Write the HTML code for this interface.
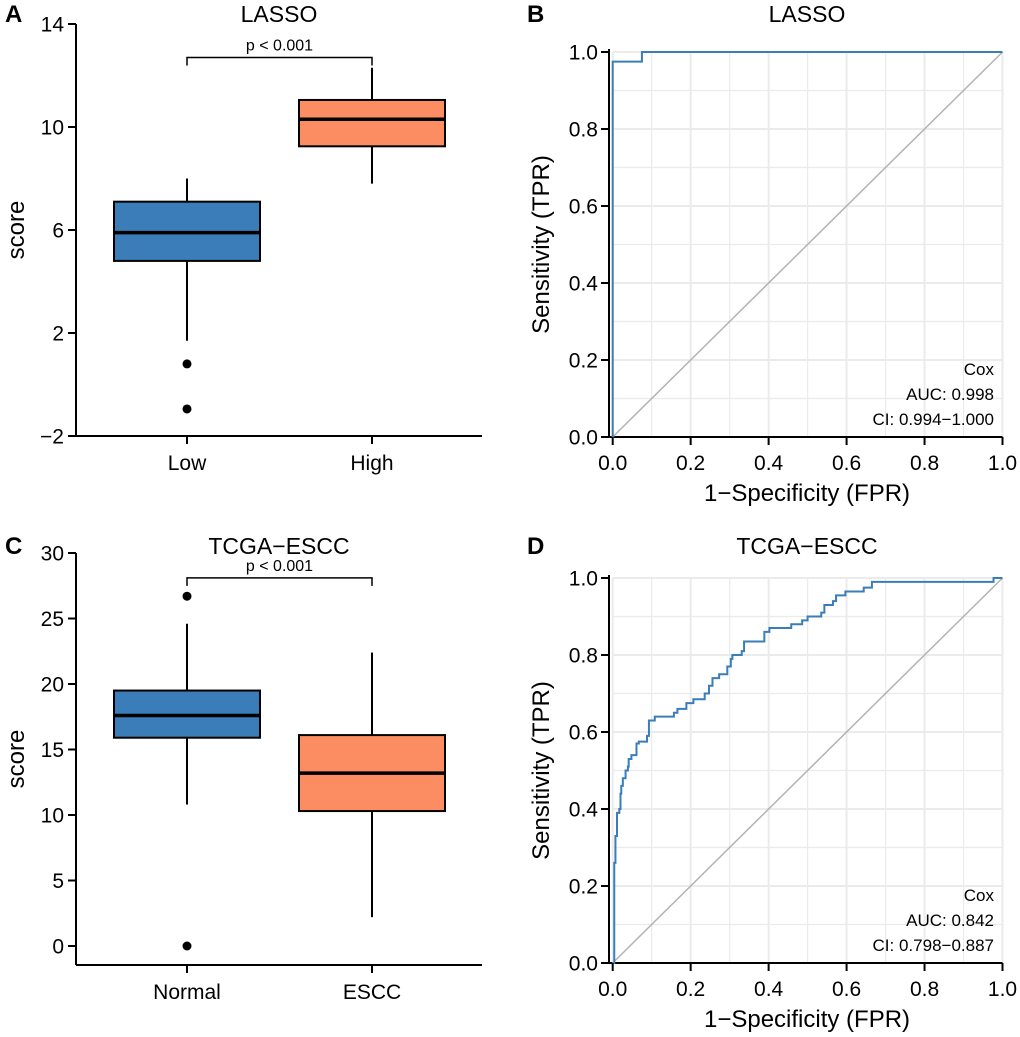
<!DOCTYPE html>
<html><head><meta charset="utf-8"><style>
body{margin:0;background:#fff;}
svg{display:block;font-family:"Liberation Sans",Arial,sans-serif;}
</style></head><body>
<svg id="c" width="1020" height="1037" viewBox="0 0 1020 1037"></svg>
<script>
// ---- Panel A data ----
const aCats = ["Low","High"];
const aQ1 = [4.8, 9.25];
const aMedian = [5.9, 10.3];
const aQ3 = [7.1, 11.05];
const aHighWhisker = [8.0, 12.3];
const aLowerWh = [1.7, 7.8];
const aOutliers = [[0.8, -0.95], []];
const aTicks = [-2, 2, 6, 10, 14];
// ---- Panel C data ----
const cCats = ["Normal","ESCC"];
const cQ1 = [15.9, 10.3];
const cMedian = [17.6, 13.2];
const cQ3 = [19.5, 16.1];
const cUpperWh = [24.6, 22.4];
const cLowerWh = [10.8, 2.2];
const cOutliers = [[26.7, 0.0], []];
const cTicks = [0, 5, 10, 15, 20, 25, 30];
// ---- ROC B data ----
const bFpr = [0.0, 0.0, 0.075, 0.075, 1.0];
const bTpr = [0.0, 0.975, 0.975, 1.0, 1.0];
// ---- ROC D data (step points) ----
const dFpr = [0.003,0.004,0.007,0.011,0.017,0.02,0.022,0.026,0.033,0.039,0.041,0.048,0.061,0.067,0.088,0.093,0.108,0.157,0.166,0.189,0.207,0.236,0.247,0.256,0.273,0.294,0.303,0.307,0.331,0.337,0.389,0.402,0.458,0.486,0.5,0.535,0.543,0.565,0.573,0.597,0.644,0.665,0.977,1.0];
const dTpr = [0.0,0.26,0.33,0.39,0.40,0.44,0.46,0.48,0.50,0.51,0.53,0.54,0.57,0.575,0.59,0.63,0.64,0.65,0.66,0.675,0.685,0.70,0.72,0.74,0.75,0.77,0.79,0.80,0.81,0.835,0.86,0.87,0.88,0.89,0.90,0.91,0.93,0.94,0.955,0.965,0.975,0.99,1.0,1.0];
const rocTicks = [0.0,0.2,0.4,0.6,0.8,1.0];

const NS="http://www.w3.org/2000/svg";
const svg=document.getElementById('c');
function el(tag,attrs,parent,txt){const e=document.createElementNS(NS,tag);for(const k in attrs)e.setAttribute(k,attrs[k]);if(txt!==undefined)e.textContent=txt;(parent||svg).appendChild(e);return e;}

function boxPanel(opt){
  const g=el('g',{});
  
  
  const y=v=>opt.y0+(v-opt.vmin)/(opt.vmax-opt.vmin)*(opt.y1-opt.y0);
  const cx=[187,372];
  let a=el('line',{x1:76,y1:y(opt.vmax),x2:76,y2:opt.axisY,stroke:'#000','stroke-width':2},g);
  
  a=el('line',{x1:76,y1:opt.axisY,x2:482,y2:opt.axisY,stroke:'#000','stroke-width':2},g);
  
  opt.ticks.forEach(t=>{
    el('line',{x1:68,x2:76,y1:y(t),y2:y(t),stroke:'#000','stroke-width':2},g);
    const tx=el('text',{x:64,y:y(t)+7.5,'text-anchor':'end','font-size':21},g,t<0?'\u2212'+(-t):String(t));
    
  });
  opt.cats.forEach((c,i)=>{
    el('line',{x1:cx[i],x2:cx[i],y1:opt.axisY,y2:opt.axisY+8,stroke:'#000','stroke-width':2},g);
    const tx=el('text',{x:cx[i],y:opt.axisY+34,'text-anchor':'middle','font-size':21},g,c);
    
    const col=i===0?'#3a7db8':'#fc8d62';
    let w=el('line',{x1:cx[i],x2:cx[i],y1:y(opt.upper[i]),y2:y(opt.q3[i]),stroke:'#000','stroke-width':2},g);
    
    w=el('line',{x1:cx[i],x2:cx[i],y1:y(opt.q1[i]),y2:y(opt.lower[i]),stroke:'#000','stroke-width':2},g);
    
    const r=el('rect',{x:cx[i]-73,y:y(opt.q3[i]),width:146,height:y(opt.q1[i])-y(opt.q3[i]),fill:col,stroke:'#000','stroke-width':2},g);
    
    const m=el('line',{x1:cx[i]-73,x2:cx[i]+73,y1:y(opt.med[i]),y2:y(opt.med[i]),stroke:'#000','stroke-width':3.5},g);
    
    opt.out[i].forEach(o=>{const p=el('circle',{cx:cx[i],cy:y(o),r:4.5,fill:'#000'},g);
      });
  });
  const by=y(opt.bracket);
  const br=el('path',{d:`M${cx[0]},${by+8}V${by}H${cx[1]}V${by+8}`,fill:'none',stroke:'#000','stroke-width':1.5},g);
  
  let t=el('text',{x:(cx[0]+cx[1])/2,y:by-7,'text-anchor':'middle','font-size':16},g,'p < 0.001');
  
  t=el('text',{x:279,y:opt.titleY,'text-anchor':'middle','font-size':23},g,opt.title);
  
  t=el('text',{x:0,y:0,'text-anchor':'middle','font-size':24,transform:`translate(24,${(y(opt.vmax)+opt.axisY)/2}) rotate(-90)`},g,'score');
  
  t=el('text',{x:5,y:opt.titleY,'font-size':24,'font-weight':'bold'},g,opt.letter);
  
}

function rocPanel(opt){
  const g=el('g',{});
  
  
  const X0=612.7,X1=1002.5;
  const x=v=>X0+v*(X1-X0);
  const y=v=>opt.y0+v*(opt.y1-opt.y0);
  for(let k=0;k<=10;k++){const v=k/10;
    el('line',{x1:x(v),x2:x(v),y1:y(0),y2:y(1),stroke:'#ebebeb','stroke-width':k%2?1.2:2},g);
    el('line',{x1:x(0),x2:x(1),y1:y(v),y2:y(v),stroke:'#ebebeb','stroke-width':k%2?1.2:2},g);
  }
  let a=el('line',{x1:609,x2:609,y1:y(1)-3,y2:y(0)+1,stroke:'#000','stroke-width':2},g);
  
  a=el('line',{x1:609,x2:x(1),y1:y(0),y2:y(0),stroke:'#000','stroke-width':2},g);
  
  rocTicks.forEach(t=>{
    el('line',{x1:601,x2:609,y1:y(t),y2:y(t),stroke:'#000','stroke-width':2},g);
    let tx=el('text',{x:598,y:y(t)+7.5,'text-anchor':'end','font-size':21},g,t.toFixed(1));
    
    el('line',{x1:x(t),x2:x(t),y1:y(0),y2:y(0)+8,stroke:'#000','stroke-width':2},g);
    tx=el('text',{x:x(t),y:y(0)+33,'text-anchor':'middle','font-size':21},g,t.toFixed(1));
    
  });
  const d=el('line',{x1:x(0),y1:y(0),x2:x(1),y2:y(1),stroke:'#b3b3b3','stroke-width':1.5},g);
  
  let p=`M${x(opt.fpr[0])},${y(opt.tpr[0])}`;
  for(let i=1;i<opt.fpr.length;i++){p+=`H${x(opt.fpr[i])}V${y(opt.tpr[i])}`;}
  const c=el('path',{d:p,fill:'none',stroke:'#3a7db8','stroke-width':2},g);
  
  const lines=['Cox','AUC: '+opt.auc,'CI: '+opt.ci];
  lines.forEach((s,i)=>{const t=el('text',{x:994,y:y(0)-62+i*25,'text-anchor':'end','font-size':17},g,s);
    });
  let t=el('text',{x:807,y:opt.titleY,'text-anchor':'middle','font-size':23},g,opt.title);
  
  t=el('text',{x:807,y:y(0)+64,'text-anchor':'middle','font-size':24},g,'1\u2212Specificity (FPR)');
  
  t=el('text',{x:0,y:0,'text-anchor':'middle','font-size':24,transform:`translate(549,${(y(0)+y(1))/2}) rotate(-90)`},g,'Sensitivity (TPR)');
  
  t=el('text',{x:527,y:opt.titleY,'font-size':24,'font-weight':'bold'},g,opt.letter);
  
}

boxPanel({name:'boxplot-lasso',letter:'A',title:'LASSO',titleY:22,cats:aCats,vmin:-2,vmax:14,y0:436,y1:24,axisY:436,
  ticks:aTicks,q1:aQ1,med:aMedian,q3:aQ3,upper:aHighWhisker,lower:aLowerWh,out:aOutliers,bracket:12.7});
boxPanel({name:'boxplot-tcga-escc',letter:'C',title:'TCGA\u2212ESCC',titleY:554,cats:cCats,vmin:0,vmax:30,y0:946,y1:553,axisY:965,
  ticks:cTicks,q1:cQ1,med:cMedian,q3:cQ3,upper:cUpperWh,lower:cLowerWh,out:cOutliers,bracket:28.1});
rocPanel({name:'roc-lasso',letter:'B',title:'LASSO',titleY:22,y0:437,y1:52,fpr:bFpr,tpr:bTpr,auc:'0.998',ci:'0.994\u22121.000'});
rocPanel({name:'roc-tcga-escc',letter:'D',title:'TCGA\u2212ESCC',titleY:554,y0:963,y1:578,fpr:dFpr,tpr:dTpr,auc:'0.842',ci:'0.798\u22120.887'});
</script>
</body></html>
